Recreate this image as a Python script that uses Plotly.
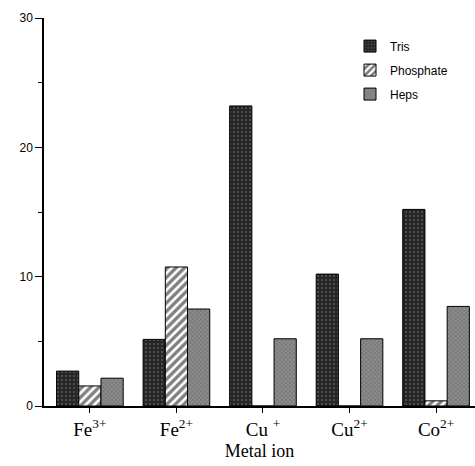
import plotly.graph_objects as go

categories = ["Fe<sup>3+</sup>", "Fe<sup>2+</sup>", "Cu <sup>+</sup>", "Cu<sup>2+</sup>", "Co<sup>2+</sup>"]
tris = [2.7, 5.15, 23.2, 10.2, 15.2]
phosphate = [1.55, 10.75, 0, 0, 0.4]
heps = [2.15, 7.5, 5.2, 5.2, 7.7]
y_ticks = [0, 10, 20, 30]

xi = list(range(len(categories)))

fig = go.Figure()
fig.add_trace(go.Bar(
    x=xi, y=tris, name="Tris", legendgroup="a",
    marker=dict(color="#262626", line=dict(color="black", width=1),
                pattern=dict(shape=".", fgcolor="#8a8a8a", size=4, solidity=0.2)),
))
fig.add_trace(go.Bar(
    x=xi, y=phosphate, name="Phosphate", legendgroup="b",
    marker=dict(color="white", line=dict(color="black", width=1),
                pattern=dict(shape="/", fgcolor="black", bgcolor="white", size=6, solidity=0.55)),
))
fig.add_trace(go.Bar(
    x=xi, y=heps, name="Heps", legendgroup="c",
    marker=dict(color="#8c8c8c", line=dict(color="black", width=1),
                pattern=dict(shape="x", fgcolor="#3c3c3c", size=3, solidity=0.3)),
))

fig.update_layout(
    width=475, height=466,
    margin=dict(l=44, r=0, t=18, b=60),
    paper_bgcolor="white", plot_bgcolor="white",
    barmode="group", bargap=0.23, bargroupgap=0,
    showlegend=True,
    legend=dict(x=0.71, y=0.965, xanchor="left", yanchor="top",
                font=dict(family="Liberation Sans", size=12, color="black"),
                tracegroupgap=5, bgcolor="rgba(0,0,0,0)"),
    font=dict(family="Liberation Sans", color="black"),
)
fig.update_xaxes(
    range=[-0.53, 4.45], tickmode="array", tickvals=xi, ticktext=categories,
    tickson="boundaries", ticks="outside", ticklen=5, tickcolor="black",
    showline=True, linecolor="black", linewidth=1.5, showgrid=False, zeroline=False,
    tickfont=dict(family="Liberation Serif", size=19, color="black"),
    title=dict(text="Metal ion", font=dict(family="Liberation Serif", size=18, color="black"), standoff=6),
)
fig.update_yaxes(
    range=[0, 30], tickmode="array", tickvals=y_ticks,
    ticks="outside", ticklen=7, tickcolor="black",
    minor=dict(tickvals=[5, 15, 25], ticks="outside", ticklen=4, tickcolor="black"),
    showline=True, linecolor="black", linewidth=1.5, showgrid=False, zeroline=False,
    tickfont=dict(family="Liberation Sans", size=12, color="black"),
)

fig.write_html("out.html")
